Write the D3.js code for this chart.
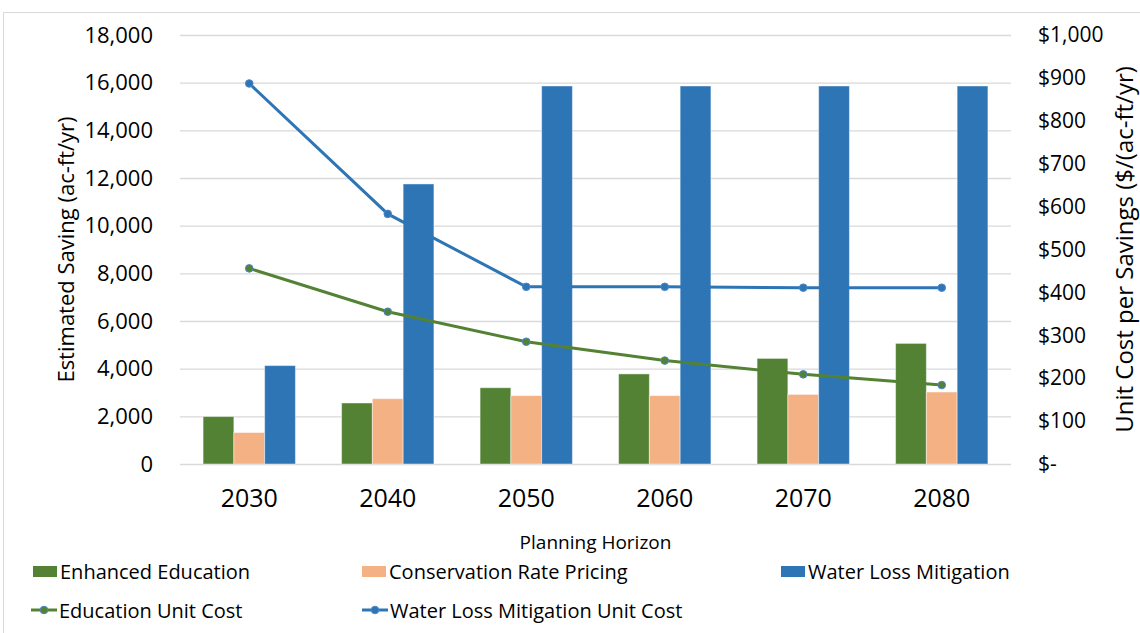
<!DOCTYPE html>
<html>
<head>
<meta charset="utf-8">
<script src="https://cdn.jsdelivr.net/npm/d3@7"></script>
<style>
  body { margin: 0; background: #fff; }
  text { font-family: "Open Sans", sans-serif; fill: #000; }
</style>
</head>
<body>
<svg id="chart" width="1140" height="633"></svg>
<script>
// données
const years = ['2030', '2040', '2050', '2060', '2070', '2080'];
const education = [1990, 2560, 3200, 3780, 4430, 5060];
const pricing = [1320, 2740, 2870, 2870, 2920, 3020];
const waterLoss = [4130, 11750, 15860, 15860, 15860, 15860];
const educationCost = [456, 355, 285, 241, 209, 184];
const waterLossCost = [887, 583, 413, 413, 411, 411];
const leftTicks = [0, 2000, 4000, 6000, 8000, 10000, 12000, 14000, 16000, 18000];
const rightTicks = [0, 100, 200, 300, 400, 500, 600, 700, 800, 900, 1000];

const green = '#548235', orange = '#F4B183', blue = '#2E75B6';

const svg = d3.select('#chart');
const plotLeft = 180, plotRight = 1011, plotTop = 35, plotBottom = 464;

// cadre du graphique
svg.append('rect')
  .attr('x', 3.5).attr('y', 12.5)
  .attr('width', 1150).attr('height', 640)
  .attr('fill', 'none').attr('stroke', '#d9d9d9');

const x0 = d3.scaleBand().domain(years).range([plotLeft, plotRight]);
const bw = x0.bandwidth();
const gap = bw / 4.5 * 0.75;
const barSeries = ['edu', 'price', 'water'];
const x1 = d3.scaleBand().domain(barSeries).range([gap, bw - gap]);

const y = d3.scaleLinear().domain([0, 18000]).range([plotBottom, plotTop]);
const y2 = d3.scaleLinear().domain([0, 1000]).range([plotBottom, plotTop]);

// grille
svg.append('g')
  .attr('transform', `translate(${plotLeft},0)`)
  .call(d3.axisLeft(y).tickValues(leftTicks).tickSize(-(plotRight - plotLeft)).tickFormat(''))
  .call(g => g.select('.domain').remove())
  .call(g => g.selectAll('line').attr('stroke', '#d9d9d9').attr('stroke-width', 1.3));

// axe gauche
svg.append('g')
  .attr('transform', 'translate(156,0)')
  .call(d3.axisLeft(y).tickValues(leftTicks).tickSize(0).tickFormat(d3.format(',')))
  .call(g => g.select('.domain').remove())
  .call(g => g.selectAll('text').style('font-size', '22px').attr('fill', '#000'));

// axe droit
svg.append('g')
  .attr('transform', 'translate(1035,0)')
  .call(d3.axisRight(y2).tickValues(rightTicks).tickSize(0)
    .tickFormat(d => d === 0 ? '$-' : '$' + d3.format(',')(d)))
  .call(g => g.select('.domain').remove())
  .call(g => g.selectAll('text').style('font-size', '21px').attr('fill', '#000'));

// axe des x
svg.append('g')
  .attr('transform', `translate(0,${plotBottom})`)
  .call(d3.axisBottom(x0).tickSize(0).tickPadding(25))
  .call(g => g.select('.domain').remove())
  .call(g => g.selectAll('text').style('font-size', '25px').attr('fill', '#000'));

// barres
const barData = [
  { key: 'edu', values: education, color: green },
  { key: 'price', values: pricing, color: orange },
  { key: 'water', values: waterLoss, color: blue }
];
barData.forEach(s => {
  svg.append('g').selectAll('rect')
    .data(s.values)
    .join('rect')
    .attr('x', (d, i) => x0(years[i]) + x1(s.key))
    .attr('y', d => y(d))
    .attr('width', x1.bandwidth())
    .attr('height', d => plotBottom - y(d))
    .attr('fill', s.color)
    .attr('stroke', 'rgba(255,255,255,0.45)')
    .attr('stroke-width', 1);
});

// lignes de coût unitaire
const line = d3.line()
  .x((d, i) => x0(years[i]) + bw / 2)
  .y(d => y2(d));

[[educationCost, green], [waterLossCost, blue]].forEach(([vals, col]) => {
  svg.append('path')
    .attr('d', line(vals))
    .attr('fill', 'none')
    .attr('stroke', col)
    .attr('stroke-width', 3);
  svg.append('g').selectAll('circle')
    .data(vals)
    .join('circle')
    .attr('cx', (d, i) => x0(years[i]) + bw / 2)
    .attr('cy', d => y2(d))
    .attr('r', 3.8)
    .attr('fill', col)
    .attr('stroke', '#4a86c8')
    .attr('stroke-width', 1);
});

// titres des axes
svg.append('text')
  .attr('transform', `translate(74,${(plotTop + plotBottom) / 2}) rotate(-90)`)
  .attr('text-anchor', 'middle')
  .style('font-size', '22px')
  .text('Estimated Saving (ac-ft/yr)');

svg.append('text')
  .attr('transform', `translate(1133,${(plotTop + plotBottom) / 2}) rotate(-90)`)
  .attr('text-anchor', 'middle')
  .style('font-size', '24px')
  .text('Unit Cost per Savings ($/(ac-ft/yr)');

svg.append('text')
  .attr('x', (plotLeft + plotRight) / 2).attr('y', 549)
  .attr('text-anchor', 'middle')
  .style('font-size', '19px')
  .text('Planning Horizon');

// légende
const legendBars = [
  { label: 'Enhanced Education', color: green, x: 33 },
  { label: 'Conservation Rate Pricing', color: orange, x: 362 },
  { label: 'Water Loss Mitigation', color: blue, x: 781 }
];
legendBars.forEach(l => {
  svg.append('rect')
    .attr('x', l.x).attr('y', 566)
    .attr('width', 24).attr('height', 11)
    .attr('fill', l.color);
  svg.append('text')
    .attr('x', l.x + 27).attr('y', 579)
    .style('font-size', '20px')
    .text(l.label);
});

const legendLines = [
  { label: 'Education Unit Cost', color: green, x: 31 },
  { label: 'Water Loss Mitigation Unit Cost', color: blue, x: 362 }
];
legendLines.forEach(l => {
  svg.append('line')
    .attr('x1', l.x).attr('x2', l.x + 26)
    .attr('y1', 610).attr('y2', 610)
    .attr('stroke', l.color).attr('stroke-width', 3);
  svg.append('circle')
    .attr('cx', l.x + 13).attr('cy', 610).attr('r', 3.8)
    .attr('fill', l.color).attr('stroke', '#4a86c8').attr('stroke-width', 1);
  svg.append('text')
    .attr('x', l.x + 28).attr('y', 618)
    .style('font-size', '20px')
    .text(l.label);
});
</script>
</body>
</html>
